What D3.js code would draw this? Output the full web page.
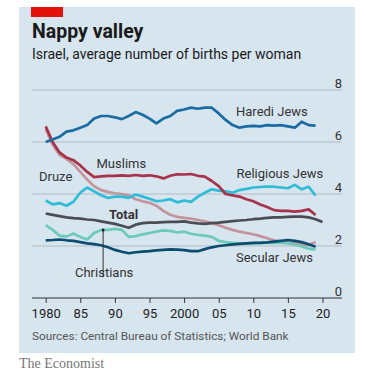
<!DOCTYPE html>
<html><head><meta charset="utf-8">
<script src="https://cdn.jsdelivr.net/npm/d3@7"></script>
<style>
html,body{margin:0;padding:0;background:#fff;}
svg{display:block;font-family:Roboto,"Noto Sans",sans-serif;}
</style></head>
<body>
<svg id="chart" width="366" height="380"></svg>
<script>
const years = d3.range(1980, 2021);
const haredi = [6.0,6.1,6.2,6.4,6.45,6.55,6.65,6.9,7.0,7.0,6.95,6.88,7.0,7.15,7.05,6.9,6.72,6.9,7.0,7.2,7.25,7.32,7.28,7.32,7.32,7.1,6.85,6.65,6.55,6.6,6.62,6.6,6.65,6.63,6.65,6.6,6.55,6.78,6.65,6.63];
const muslims = [6.6,6.0,5.6,5.4,5.3,5.1,4.85,4.65,4.68,4.7,4.7,4.72,4.7,4.73,4.7,4.72,4.68,4.6,4.7,4.76,4.75,4.77,4.7,4.67,4.5,4.3,4.0,3.95,3.9,3.8,3.72,3.6,3.5,3.38,3.35,3.35,3.32,3.35,3.41,3.19];
const druze = [6.5,5.9,5.5,5.35,5.15,4.85,4.55,4.3,4.15,4.08,4.03,4.0,3.95,3.8,3.72,3.66,3.55,3.35,3.2,3.12,3.08,3.05,3.0,2.95,2.88,2.8,2.7,2.62,2.55,2.5,2.45,2.38,2.3,2.22,2.17,2.13,2.1,2.06,2.04,2.15];
const religious = [3.75,3.6,3.65,3.55,3.7,4.05,4.25,4.1,3.95,3.85,3.9,3.9,3.85,3.98,3.9,3.82,3.72,3.75,3.8,3.68,3.75,3.7,3.9,4.05,4.18,4.13,4.1,4.05,4.15,4.2,4.25,4.27,4.28,4.28,4.25,4.22,4.35,4.18,4.28,3.94];
const total = [3.25,3.2,3.15,3.1,3.07,3.05,3.02,3.0,2.95,2.9,2.85,2.78,2.7,2.82,2.88,2.9,2.9,2.92,2.93,2.93,2.95,2.9,2.87,2.85,2.88,2.9,2.93,2.96,2.98,3.0,3.03,3.05,3.08,3.1,3.1,3.12,3.13,3.13,3.1,3.03,2.92];
const christians = [2.8,2.62,2.4,2.36,2.48,2.35,2.25,2.5,2.62,2.62,2.66,2.62,2.35,2.38,2.45,2.5,2.55,2.6,2.58,2.52,2.55,2.47,2.43,2.4,2.35,2.2,2.15,2.12,2.1,2.1,2.1,2.12,2.13,2.12,2.12,2.1,2.05,1.98,1.9,1.86];
const secular = [2.22,2.23,2.25,2.22,2.2,2.15,2.1,2.07,2.03,1.95,1.85,1.78,1.72,1.76,1.78,1.8,1.83,1.85,1.87,1.86,1.84,1.8,1.8,1.88,1.95,2.0,2.03,2.06,2.08,2.1,2.12,2.12,2.14,2.17,2.2,2.23,2.2,2.15,2.07,1.97];
const xTickValues = [1980,1985,1990,1995,2000,2005,2010,2015,2020];
const xTickLabels = ["1980","85","90","95","2000","05","10","15","20"];
const yTickValues = [0,2,4,6,8];

const series = [
  {name:"Druze", values:druze, color:"#c4949d"},
  {name:"Christians", values:christians, color:"#6ccab9"},
  {name:"Religious Jews", values:religious, color:"#2fbcd7"},
  {name:"Muslims", values:muslims, color:"#a6334a"},
  {name:"Secular Jews", values:secular, color:"#0a4d71"},
  {name:"Total", values:total, color:"#494e54"},
  {name:"Haredi Jews", values:haredi, color:"#1a6ca3"}
];

const svg = d3.select("#chart");
svg.append("rect").attr("x",19).attr("y",7).attr("width",336).attr("height",346).attr("fill","#d7e5ef");
svg.append("rect").attr("x",31).attr("y",7).attr("width",32).attr("height",10).attr("fill","#e3120b");
svg.append("text").attr("x",32).attr("y",38).attr("font-size",19.5).attr("font-weight",700).attr("fill","#1a1a1a").text("Nappy valley");
svg.append("text").attr("x",32).attr("y",58.5).attr("font-size",14).attr("fill","#1a1a1a").text("Israel, average number of births per woman");

const x = d3.scaleLinear().domain([1980,2020]).range([45.7,322.5]);
const y = d3.scaleLinear().domain([0,8]).range([298,90]);

svg.append("g").selectAll("line").data(yTickValues.filter(v=>v>0)).join("line")
  .attr("x1",32).attr("x2",342).attr("y1",d=>y(d)).attr("y2",d=>y(d))
  .attr("stroke","#b3bcc4").attr("stroke-width",1);
svg.append("g").selectAll("text").data(yTickValues).join("text")
  .attr("x",342).attr("y",d=>y(d)-2.5).attr("text-anchor","end")
  .attr("font-size",13).attr("fill","#333").text(d=>d);

const xAxis = d3.axisBottom(x).tickValues(xTickValues).tickFormat((d,i)=>xTickLabels[i]).tickSize(5).tickSizeOuter(0);
const gx = svg.append("g").attr("transform",`translate(0,${y(0)})`).call(xAxis);
gx.select(".domain").remove();
gx.selectAll(".tick line").attr("stroke","#333");
gx.selectAll(".tick text").attr("font-size",13).attr("fill","#222").attr("font-family","Roboto,sans-serif").attr("dy","0.9em");
svg.append("line").attr("x1",32).attr("x2",342).attr("y1",y(0)).attr("y2",y(0)).attr("stroke","#333").attr("stroke-width",1);

const line = d3.line().x((d,i)=>x(years[i])).y(d=>y(d));
svg.append("g").selectAll("path").data(series).join("path")
  .attr("d",d=>line(d.values)).attr("fill","none").attr("stroke",d=>d.color)
  .attr("stroke-width",2.7).attr("stroke-linejoin","round").attr("stroke-linecap","butt");

svg.append("line").attr("x1",x(1988.3)).attr("x2",x(1988.3)).attr("y1",y(2.62)).attr("y2",y(0.8)).attr("stroke","#333").attr("stroke-width",1);
svg.append("circle").attr("cx",x(1988.3)).attr("cy",y(2.62)).attr("r",1.5).attr("fill","#222");

const labels = [
  {t:"Haredi Jews", x:236, y:116, w:400},
  {t:"Muslims", x:96.5, y:168, w:400},
  {t:"Druze", x:39, y:181, w:400},
  {t:"Religious Jews", x:236.5, y:178, w:400},
  {t:"Total", x:109, y:219, w:700},
  {t:"Christians", x:75, y:277, w:400},
  {t:"Secular Jews", x:236, y:262, w:400}
];
svg.append("g").selectAll("text").data(labels).join("text")
  .attr("x",d=>d.x).attr("y",d=>d.y).attr("font-size",13).attr("font-weight",d=>d.w)
  .attr("fill","#333").text(d=>d.t);

svg.append("text").attr("x",32).attr("y",340).attr("font-size",11.8).attr("fill","#555").text("Sources: Central Bureau of Statistics; World Bank");
svg.append("text").attr("x",19).attr("y",368).attr("font-size",14).attr("fill","#777").attr("font-family","'Liberation Serif','DejaVu Serif',serif").text("The Economist");
</script>
</body></html>
